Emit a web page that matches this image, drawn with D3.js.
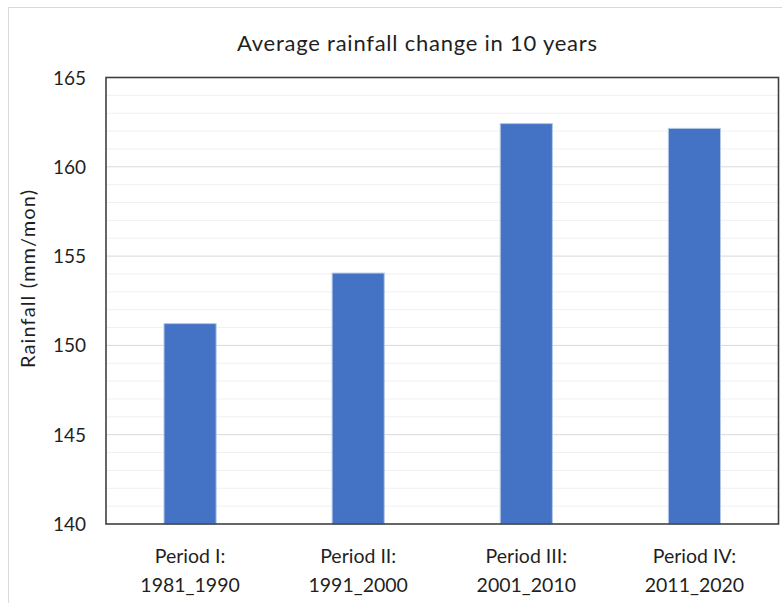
<!DOCTYPE html>
<html><head><meta charset="utf-8">
<script src="https://cdn.jsdelivr.net/npm/d3@7"></script>
<style>body{margin:0;background:#fff;} text{font-family:Lato, "Open Sans", sans-serif; fill:#1f1f1f;}</style>
</head><body>
<svg id="chart" width="782" height="603"></svg>
<script>
const categoriesLine1 = ["Period I:", "Period II:", "Period III:", "Period IV:"];
const categoriesLine2 = ["1981_1990", "1991_2000", "2001_2010", "2011_2020"];
const rainfall = [151.22, 154.05, 162.42, 162.15];
const yTicks = [140, 145, 150, 155, 160, 165];
const title = "Average rainfall change in 10 years";
const yLabel = "Rainfall (mm/mon)";

const svg = d3.select("#chart");
const m = {left:106, top:77.5, right:778.5, bottom:524};
const x = d3.scaleBand().domain(categoriesLine1).range([m.left, m.right]).paddingInner(0.69).paddingOuter(0.345);
const y = d3.scaleLinear().domain([140,165]).range([m.bottom, m.top]);

// outer frame
svg.append("rect").attr("x",8.5).attr("y",7.5).attr("width",800).attr("height",700)
  .attr("fill","none").attr("stroke","#d9d9d9").attr("stroke-width",1);

// minor gridlines
const minor = d3.range(141,165).filter(v => v % 5 !== 0);
svg.append("g").selectAll("line").data(minor).join("line")
  .attr("x1",m.left).attr("x2",m.right).attr("y1",d=>y(d)).attr("y2",d=>y(d))
  .attr("stroke","#f0f0f0").attr("stroke-width",1);
svg.append("g").selectAll("line").data(yTicks.slice(1,-1)).join("line")
  .attr("x1",m.left).attr("x2",m.right).attr("y1",d=>y(d)).attr("y2",d=>y(d))
  .attr("stroke","#d9d9d9").attr("stroke-width",1);

// bars
svg.append("g").selectAll("rect").data(rainfall).join("rect")
  .attr("x",(d,i)=>x(categoriesLine1[i])).attr("width",x.bandwidth())
  .attr("y",d=>y(d)).attr("height",d=>y(140)-y(d))
  .attr("fill","#4472c4").attr("stroke","#b4c7e7").attr("stroke-width",1);

// plot border
svg.append("rect").attr("x",m.left).attr("y",m.top).attr("width",m.right-m.left).attr("height",m.bottom-m.top)
  .attr("fill","none").attr("stroke","#404040").attr("stroke-width",1.6);

// y tick labels
svg.append("g").selectAll("text").data(yTicks).join("text")
  .attr("x",86).attr("y",d=>y(d)+7).attr("text-anchor","end")
  .style("font-size","19px").text(d=>d);

// x labels
const xl = svg.append("g").selectAll("text").data(categoriesLine1).join("text")
  .attr("text-anchor","middle").style("font-size","19.5px")
  .attr("x",d=>x(d)+x.bandwidth()/2);
xl.append("tspan").attr("x",d=>x(d)+x.bandwidth()/2).attr("y",563).text(d=>d);
xl.append("tspan").attr("x",d=>x(d)+x.bandwidth()/2).attr("y",592).text((d,i)=>categoriesLine2[i]);

// title
svg.append("text").attr("x",417).attr("y",51).attr("text-anchor","middle").style("font-size","22px")
  .attr("textLength",360).text(title);

// y label
svg.append("text").attr("transform","translate(35,279) rotate(-90)").attr("text-anchor","middle")
  .style("font-size","20px").attr("textLength",178).text(yLabel);
</script>
</body></html>
